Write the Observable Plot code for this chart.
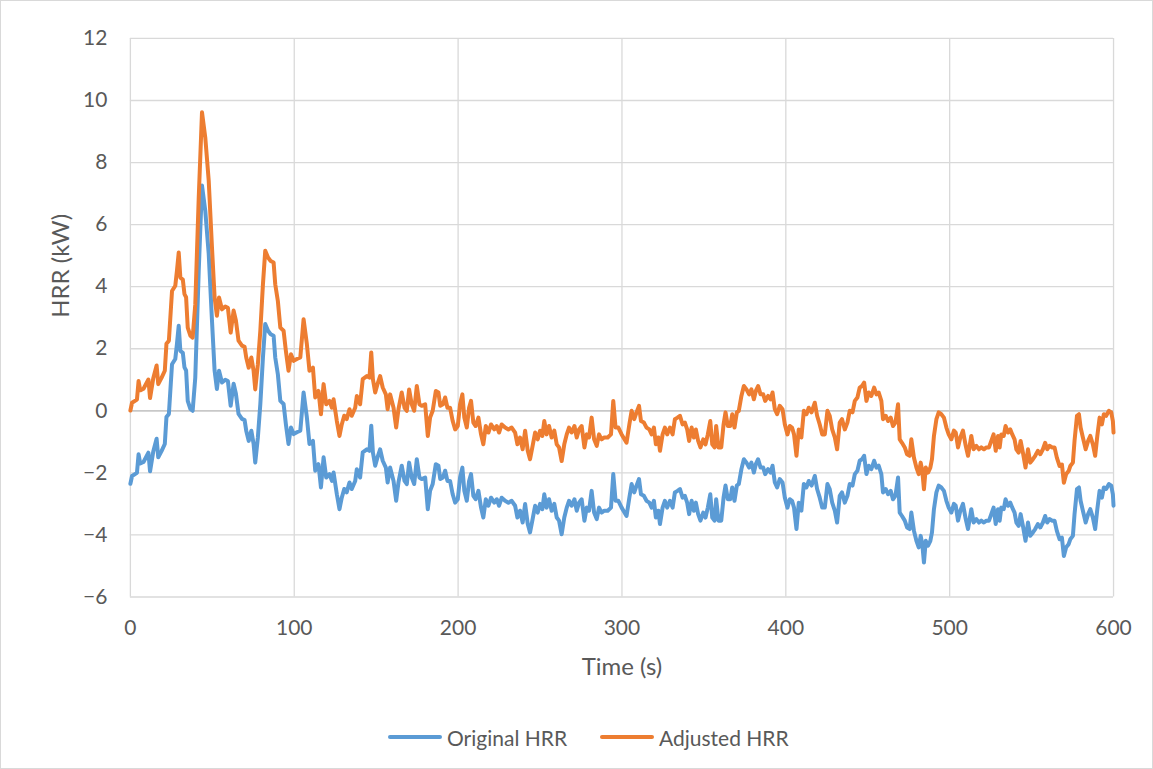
<!DOCTYPE html>
<html>
<head>
<meta charset="utf-8">
<script src="https://cdn.jsdelivr.net/npm/d3@7"></script>
<script src="https://cdn.jsdelivr.net/npm/@observablehq/plot@0.6"></script>
<style>
  html, body { margin: 0; padding: 0; background: #fff; }
  #wrap { position: relative; width: 1151px; height: 767px; border: 1px solid #d9d9d9; overflow: hidden; font-family: Lato, "Open Sans", sans-serif; }
  #chart { position: absolute; left: -1px; top: -1px; }
  #legend { position: absolute; top: 723px; left: -1px; width: 1153px; height: 26px; font-size: 21px; color: #595959; }
  .item { position: absolute; top: 0; display: flex; align-items: center; height: 26px; }
  .swatch { width: 54px; height: 4px; margin-right: 5px; border-radius: 2px; }
</style>
</head>
<body>
<div id="wrap">
  <div id="chart"></div>
  <div id="legend"></div>
</div>
<script>
const seriesNames = ["Original HRR", "Adjusted HRR"];
const seriesColors = ["#5B9BD5", "#ED7D31"];
const xTicks = [0, 100, 200, 300, 400, 500, 600];
const yTicks = [-6, -4, -2, 0, 2, 4, 6, 8, 10, 12];
const xTitle = "Time (s)";
const yTitle = "HRR (kW)";

const time = [0,1,4,5,6,8,11,12,14,16,17,19,21,22,23.5,25.4,27.4,28.4,29.5,30.5,32,33,34,35,36.6,38,39.6,41.7,43.7,45.7,47.8,49.8,51.4,52.8,54.1,55.9,57.9,59.5,61.2,63,64.4,66,68.1,69.7,70.7,72.2,73.8,75.2,76.2,77.8,79.3,80.9,82.3,84,85.6,87.4,88.4,90,91.5,93.5,94.9,96.5,98,99.6,101.6,103.7,105.7,107.7,109.3,111.4,112.8,114.8,116.3,117.9,119.5,121.5,123,124,126,127.6,129,130.5,132,133.7,135.1,137.2,138.2,140.2,141.8,144.3,145.9,147,148,149.4,150.8,152.4,154,155.9,157,158.5,160.6,162.2,163.6,165.6,167.3,168.7,170.1,171.7,173.2,174.8,176.4,177.8,179.9,181.5,182.9,184.5,186.4,188,189.1,190.7,192.1,193.5,195.1,196.7,198.2,199.8,201.2,202.6,203.8,205.3,206.7,207.9,209.3,210.7,212.4,214,215.4,216.9,218.5,220.1,222.1,223.6,225,226.6,228.7,230.7,232.7,234.8,236.2,237.8,239.4,240.9,242.5,243.9,245.3,247,248.6,250,251.4,252.6,254,255.5,257.1,258.7,260.2,261.6,263.2,264.8,266.3,267.7,269.3,271,272.4,273.8,275.4,277.1,278.5,279.9,281.5,283,284.6,286,287.6,289.2,291.3,293.3,294.7,296.1,297.8,299.8,302.8,304.5,305.9,307.5,308.9,310.4,311.6,313.4,315,316.7,318.1,319.5,320.7,322.2,323.2,324.8,326.2,327.6,329.3,330.9,332.3,333.9,335.4,337,338.4,339.8,341,342.5,343.9,345.1,346.5,347.9,349.6,351,352.4,353.9,355.1,356.5,357.5,358.9,360.6,362,363.2,364.6,366.1,367.3,368.7,370.1,371.3,372.9,374.4,376,377.6,379,380.5,381.7,383.1,384.6,386.2,387.4,389.2,390.7,391.9,393.3,394.7,396.3,398,399.4,401,402.4,403.8,405,406.5,407.9,409.5,411,412.6,414,415.7,417.7,419.1,420.7,422.2,423.8,425.4,426.8,428.3,429.9,431.3,432.9,434.3,436,437.6,439,440.7,442.1,443.7,445.1,446.5,447.8,449.2,450.6,452.2,453.9,455.3,456.7,458.3,459.3,461,462.4,464,465.4,466.9,468.5,469.5,470.9,472.6,474,475.6,476.6,478.2,479.7,481.1,482.3,483.3,484.3,485.4,486.8,488.2,489.2,490.4,491.9,493.3,494.9,496.5,498,499.4,501,502.6,503.7,505.1,506.5,508.1,509.8,511.2,513.2,514.6,516.3,517.9,519.3,520.9,522.4,524,525.4,526.8,528.1,529.5,530.5,531.5,533,534.1,535.6,537,538.2,539.6,540.7,542.1,543.3,544.7,546.3,547.8,549.2,550.8,552.2,553.8,555.3,556.9,558.3,559.5,560.9,562.6,564,565.4,567.1,568.5,569.7,571.1,572.6,573.6,575.2,576.2,577.7,578.9,579.9,581.3,583,584.5,585.8,587.4,588.8,590.1,591.5,592.9,594.1,595.5,597.2,598.6,599.6,600];

const originalHRR = [-2.35,-2.1,-2.0,-1.4,-1.7,-1.65,-1.35,-1.95,-1.3,-0.9,-1.5,-1.3,-1.07,-0.2,-0.1,1.5,1.67,2.15,2.74,1.93,1.87,1.4,1.3,0.32,0.06,0.0,1.07,4.5,7.26,6.45,5.06,2.9,1.29,0.7,1.29,0.91,1.0,0.96,0.16,0.87,0.55,-0.1,-0.26,-0.3,-0.64,-0.97,-0.64,-1.07,-1.67,-0.86,0.22,1.72,2.8,2.58,2.47,2.42,1.72,1.18,0.32,0.22,-0.43,-1.07,-0.54,-0.75,-0.69,-0.64,0.59,-0.21,-1.07,-0.97,-1.93,-1.72,-2.47,-1.5,-2.15,-2.04,-2.26,-1.99,-2.69,-3.17,-2.8,-2.52,-2.63,-2.31,-2.52,-2.26,-1.88,-2.15,-1.34,-1.24,-1.29,-0.48,-1.34,-1.77,-1.5,-1.24,-1.61,-1.83,-2.31,-1.83,-2.26,-2.9,-2.31,-1.77,-2.26,-2.36,-1.67,-2.15,-2.36,-1.56,-2.15,-2.2,-2.15,-3.17,-2.58,-2.36,-1.72,-1.77,-2.2,-2.15,-1.93,-2.26,-2.26,-2.69,-2.96,-2.85,-2.15,-1.83,-2.58,-2.9,-2.26,-2.04,-2.74,-2.85,-2.58,-3.12,-3.44,-2.85,-3.06,-2.8,-2.96,-2.85,-3.06,-2.8,-2.9,-2.96,-2.9,-3.06,-3.44,-3.22,-3.6,-3.0,-3.65,-3.92,-3.54,-3.06,-3.28,-3.0,-3.17,-2.69,-3.12,-2.85,-3.22,-3.0,-3.44,-3.54,-3.98,-3.44,-3.12,-2.9,-3.06,-2.85,-3.22,-2.96,-2.85,-3.54,-3.12,-3.22,-2.58,-3.28,-3.49,-3.12,-3.28,-3.22,-3.22,-3.12,-2.04,-2.9,-2.9,-3.12,-3.39,-2.8,-2.36,-2.63,-2.41,-2.2,-2.69,-2.74,-2.9,-2.96,-3.12,-2.9,-3.44,-3.22,-3.65,-3.12,-2.9,-3.12,-2.9,-3.12,-2.63,-2.58,-2.52,-2.8,-2.74,-2.96,-3.33,-2.9,-3.22,-2.96,-3.33,-3.54,-3.28,-3.44,-3.12,-2.69,-3.44,-3.54,-2.85,-3.54,-3.54,-2.8,-2.41,-2.85,-2.85,-2.47,-2.9,-2.41,-2.36,-1.88,-1.56,-1.67,-1.83,-1.67,-1.99,-1.72,-1.56,-1.83,-1.83,-2.04,-1.88,-1.99,-1.77,-2.31,-2.47,-2.2,-2.31,-2.8,-3.12,-2.85,-2.9,-3.12,-3.81,-2.96,-3.22,-2.36,-2.47,-2.26,-2.41,-2.1,-2.52,-2.8,-3.12,-3.12,-2.36,-2.52,-2.96,-3.22,-3.6,-2.74,-2.63,-2.96,-2.74,-2.36,-2.41,-2.04,-1.93,-1.61,-1.56,-1.45,-2.04,-1.77,-1.88,-1.61,-1.83,-1.77,-2.04,-2.63,-2.52,-2.69,-2.58,-2.85,-2.74,-2.15,-3.28,-3.39,-3.54,-3.76,-3.81,-3.28,-3.87,-4.19,-4.4,-4.03,-4.3,-4.89,-4.19,-4.35,-4.19,-3.92,-3.17,-2.63,-2.41,-2.47,-2.58,-2.9,-3.12,-3.28,-3.0,-3.06,-3.54,-3.22,-3.0,-3.49,-3.81,-3.17,-3.6,-3.49,-3.6,-3.54,-3.6,-3.54,-3.54,-3.33,-3.12,-3.65,-3.17,-3.54,-3.12,-3.17,-2.85,-3.06,-2.96,-3.12,-3.28,-3.6,-3.71,-3.33,-3.71,-4.19,-3.6,-4.03,-3.92,-3.81,-3.65,-3.76,-3.6,-3.39,-3.6,-3.49,-3.54,-3.54,-3.87,-4.14,-4.09,-4.68,-4.4,-4.3,-4.14,-4.03,-3.33,-2.52,-2.47,-2.9,-3.22,-3.6,-3.33,-3.17,-3.44,-3.81,-3.17,-2.58,-2.8,-2.47,-2.52,-2.36,-2.41,-2.69,-3.06];

const adjustedHRR = [0.01,0.26,0.36,0.96,0.66,0.71,1.01,0.41,1.06,1.46,0.86,1.06,1.29,2.16,2.26,3.86,4.03,4.51,5.1,4.29,4.23,3.76,3.66,2.68,2.42,2.36,3.43,6.86,9.62,8.81,7.42,5.26,3.65,3.06,3.65,3.27,3.36,3.32,2.52,3.23,2.91,2.26,2.1,2.06,1.72,1.39,1.72,1.29,0.69,1.5,2.58,4.08,5.16,4.94,4.83,4.78,4.08,3.54,2.68,2.58,1.93,1.29,1.82,1.61,1.67,1.72,2.95,2.15,1.29,1.39,0.43,0.64,-0.11,0.86,0.21,0.32,0.1,0.37,-0.33,-0.81,-0.44,-0.16,-0.27,0.05,-0.16,0.1,0.48,0.21,1.02,1.12,1.07,1.88,1.02,0.59,0.86,1.12,0.75,0.53,0.05,0.53,0.1,-0.54,0.05,0.59,0.1,0.0,0.69,0.21,0.0,0.8,0.21,0.16,0.21,-0.81,-0.22,0.0,0.64,0.59,0.16,0.21,0.43,0.1,0.1,-0.33,-0.6,-0.49,0.21,0.53,-0.22,-0.54,0.1,0.32,-0.38,-0.49,-0.22,-0.76,-1.08,-0.49,-0.7,-0.44,-0.6,-0.49,-0.7,-0.44,-0.54,-0.6,-0.54,-0.7,-1.08,-0.86,-1.24,-0.64,-1.29,-1.56,-1.18,-0.7,-0.92,-0.64,-0.81,-0.33,-0.76,-0.49,-0.86,-0.64,-1.08,-1.18,-1.62,-1.08,-0.76,-0.54,-0.7,-0.49,-0.86,-0.6,-0.49,-1.18,-0.76,-0.86,-0.22,-0.92,-1.13,-0.76,-0.92,-0.86,-0.86,-0.76,0.32,-0.54,-0.54,-0.76,-1.03,-0.44,0.0,-0.27,-0.05,0.16,-0.33,-0.38,-0.54,-0.6,-0.76,-0.54,-1.08,-0.86,-1.29,-0.76,-0.54,-0.76,-0.54,-0.76,-0.27,-0.22,-0.16,-0.44,-0.38,-0.6,-0.97,-0.54,-0.86,-0.6,-0.97,-1.18,-0.92,-1.08,-0.76,-0.33,-1.08,-1.18,-0.49,-1.18,-1.18,-0.44,-0.05,-0.49,-0.49,-0.11,-0.54,-0.05,0.0,0.48,0.8,0.69,0.53,0.69,0.37,0.64,0.8,0.53,0.53,0.32,0.48,0.37,0.59,0.05,-0.11,0.16,0.05,-0.44,-0.76,-0.49,-0.54,-0.76,-1.45,-0.6,-0.86,0.0,-0.11,0.1,-0.05,0.26,-0.16,-0.44,-0.76,-0.76,0.0,-0.16,-0.6,-0.86,-1.24,-0.38,-0.27,-0.6,-0.38,0.0,-0.05,0.32,0.43,0.75,0.8,0.91,0.32,0.59,0.48,0.75,0.53,0.59,0.32,-0.27,-0.16,-0.33,-0.22,-0.49,-0.38,0.21,-0.92,-1.03,-1.18,-1.4,-1.45,-0.92,-1.51,-1.83,-2.04,-1.67,-1.94,-2.53,-1.83,-1.99,-1.83,-1.56,-0.81,-0.27,-0.05,-0.11,-0.22,-0.54,-0.76,-0.92,-0.64,-0.7,-1.18,-0.86,-0.64,-1.13,-1.45,-0.81,-1.24,-1.13,-1.24,-1.18,-1.24,-1.18,-1.18,-0.97,-0.76,-1.29,-0.81,-1.18,-0.76,-0.81,-0.49,-0.7,-0.6,-0.76,-0.92,-1.24,-1.35,-0.97,-1.35,-1.83,-1.24,-1.67,-1.56,-1.45,-1.29,-1.4,-1.24,-1.03,-1.24,-1.13,-1.18,-1.18,-1.51,-1.78,-1.73,-2.32,-2.04,-1.94,-1.78,-1.67,-0.97,-0.16,-0.11,-0.54,-0.86,-1.24,-0.97,-0.81,-1.08,-1.45,-0.81,-0.22,-0.44,-0.11,-0.16,0.0,-0.05,-0.33,-0.7];

const rows = [];
time.forEach((t, i) => {
  rows.push({t, v: originalHRR[i], s: seriesNames[0]});
});
time.forEach((t, i) => {
  rows.push({t, v: adjustedHRR[i], s: seriesNames[1]});
});

const font = "Lato, 'Open Sans', sans-serif";

const chart = Plot.plot({
  width: 1153,
  height: 700,
  marginTop: 38,
  marginBottom: 103,
  marginLeft: 130,
  marginRight: 39,
  style: { fontFamily: font, fontSize: "21px", color: "#595959", background: "transparent" },
  x: { domain: [0, 600], ticks: xTicks },
  y: { domain: [-6, 12], ticks: yTicks },
  color: { domain: seriesNames, range: seriesColors },
  marks: [
    Plot.gridX(xTicks, { stroke: "#d9d9d9", strokeOpacity: 1, strokeWidth: 1.3 }),
    Plot.gridY(yTicks, { stroke: "#d9d9d9", strokeOpacity: 1, strokeWidth: 1.3 }),
    Plot.ruleY([0], { stroke: "#bfbfbf", strokeWidth: 1.3 }),
    Plot.axisX(xTicks, { tickSize: 0, tickPadding: 23, label: null, fontSize: 21, fill: "#595959" }),
    Plot.axisY(yTicks, { tickSize: 0, tickPadding: 23, label: null, fontSize: 21, fill: "#595959" }),
    Plot.line(rows, { x: "t", y: "v", z: "s", stroke: "s", strokeWidth: 4, strokeLinejoin: "round", strokeLinecap: "round" }),
    Plot.text([xTitle], { text: d => d, frameAnchor: "bottom", dy: 70, fontSize: 24, fill: "#595959", lineAnchor: "middle" }),
    Plot.text([yTitle], { text: d => d, frameAnchor: "left", dx: -69, rotate: -90, fontSize: 24, fill: "#595959", lineAnchor: "middle" })
  ]
});
document.getElementById("chart").appendChild(chart);

const legend = document.getElementById("legend");
const lefts = [388, 600];
seriesNames.forEach((name, i) => {
  const item = document.createElement("div");
  item.className = "item";
  item.style.left = lefts[i] + "px";
  const sw = document.createElement("div");
  sw.className = "swatch";
  sw.style.background = seriesColors[i];
  const label = document.createElement("span");
  label.textContent = name;
  item.appendChild(sw);
  item.appendChild(label);
  legend.appendChild(item);
});
</script>
</body>
</html>
